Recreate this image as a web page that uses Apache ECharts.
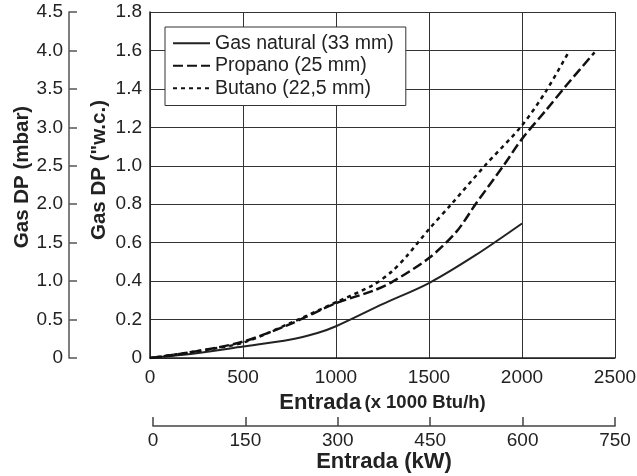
<!DOCTYPE html>
<html>
<head>
<meta charset="utf-8">
<script src="https://cdn.jsdelivr.net/npm/echarts@6/dist/echarts.min.js"></script>
<style>html,body{margin:0;padding:0;background:#fff}#c{width:637px;height:476px}</style>
</head>
<body>
<div id="c"></div>
<script>
// Data (x in 1000 Btu/h, y in "w.c.)
const seriesNames = ['Gas natural (33 mm)', 'Propano (25 mm)', 'Butano (22,5 mm)'];
const gasX = [0, 250, 500, 750, 900, 1000, 1250, 1500, 1750, 2000];
const gasY = [0, 0.025, 0.06, 0.095, 0.13, 0.165, 0.28, 0.39, 0.535, 0.70];
const propX = [0, 250, 500, 750, 1000, 1200, 1300, 1500, 1650, 1750, 1900, 2000, 2130, 2240, 2390];
const propY = [0, 0.035, 0.085, 0.175, 0.285, 0.35, 0.395, 0.52, 0.66, 0.80, 1.0, 1.14, 1.29, 1.42, 1.59];
const butX = [0, 250, 500, 750, 1000, 1200, 1300, 1380, 1500, 1620, 1800, 2000, 2130, 2250];
const butY = [0, 0.035, 0.08, 0.18, 0.29, 0.38, 0.45, 0.53, 0.67, 0.80, 1.0, 1.21, 1.39, 1.59];
// Axis ticks
const btuTicks = [0, 500, 1000, 1500, 2000, 2500];
const kwTicks = [0, 150, 300, 450, 600, 750];
const wcTicks = [0, 0.2, 0.4, 0.6, 0.8, 1.0, 1.2, 1.4, 1.6, 1.8];
const mbarTicks = [0, 0.5, 1.0, 1.5, 2.0, 2.5, 3.0, 3.5, 4.0, 4.5];

const zip = (xs, ys) => xs.map((x, i) => [x, ys[i]]);
const fmt1 = v => (v === 0 ? '0' : v.toFixed(1));
const fmt0 = v => String(v);
const FONT = '"Liberation Sans", Arial, sans-serif';
const TXT = '#222';

const chart = echarts.init(document.getElementById('c'), null, {renderer: 'canvas'});
chart.setOption({
  animation: false,
  backgroundColor: '#fff',
  textStyle: {fontFamily: FONT},
  grid: [
    {left: 150, right: 22, top: 12, bottom: 118, outerBoundsMode: 'none', containLabel: false},
    {left: 153, right: 22, top: 300, bottom: 50, outerBoundsMode: 'none', containLabel: false}
  ],
  legend: {
    left: 165, top: 27, orient: 'vertical',
    padding: [5, 12, 6, 7], itemGap: 0,
    itemWidth: 37, itemHeight: 14,
    backgroundColor: '#fff', borderColor: '#333', borderWidth: 1,
    itemStyle: {opacity: 0},
    textStyle: {fontSize: 19.5, color: TXT, fontFamily: FONT, lineHeight: 22.5},
    data: seriesNames
  },
  xAxis: [
    {
      gridIndex: 0, type: 'value',
      min: btuTicks[0], max: btuTicks[btuTicks.length - 1], interval: btuTicks[1] - btuTicks[0],
      axisLine: {show: true, lineStyle: {color: '#222', width: 1.5}},
      axisTick: {show: false},
      splitLine: {show: true, lineStyle: {color: '#333', width: 1}},
      axisLabel: {fontSize: 19, color: TXT, margin: 10, fontFamily: FONT, formatter: fmt0},
      name: '{a|Entrada} {b|(x 1000 Btu/h)}',
      nameLocation: 'middle', nameGap: 24,
      nameTextStyle: {
        rich: {
          a: {fontSize: 22, fontWeight: 'bold', color: TXT, fontFamily: FONT},
          b: {fontSize: 18.5, fontWeight: 'bold', color: TXT, fontFamily: FONT}
        }
      }
    },
    {
      gridIndex: 1, type: 'value',
      min: kwTicks[0], max: kwTicks[kwTicks.length - 1], interval: kwTicks[1] - kwTicks[0],
      axisLine: {show: true, lineStyle: {color: '#444', width: 1.5}},
      axisTick: {show: true, inside: true, length: 9, lineStyle: {color: '#444', width: 1.5}},
      splitLine: {show: false},
      axisLabel: {fontSize: 19, color: TXT, margin: 5, fontFamily: FONT, formatter: fmt0},
      name: 'Entrada (kW)',
      nameLocation: 'middle', nameGap: 22,
      nameTextStyle: {fontSize: 22, fontWeight: 'bold', color: TXT, fontFamily: FONT}
    }
  ],
  yAxis: [
    {
      gridIndex: 0, type: 'value', position: 'left',
      min: wcTicks[0], max: wcTicks[wcTicks.length - 1], interval: 0.2,
      axisLine: {show: true, lineStyle: {color: '#222', width: 1.5}},
      axisTick: {show: false},
      splitLine: {show: true, lineStyle: {color: '#333', width: 1}},
      axisLabel: {fontSize: 19, color: TXT, margin: 8, fontFamily: FONT, formatter: fmt1}
    },
    {
      gridIndex: 0, type: 'value', position: 'left', offset: 81,
      min: mbarTicks[0], max: mbarTicks[mbarTicks.length - 1], interval: 0.5,
      axisLine: {show: true, lineStyle: {color: '#555', width: 1.5}},
      axisTick: {show: true, inside: true, length: 8, lineStyle: {color: '#555', width: 1.5}},
      splitLine: {show: false},
      axisLabel: {fontSize: 19, color: TXT, margin: 6, fontFamily: FONT, formatter: fmt1}
    },
    {gridIndex: 1, type: 'value', show: false, min: 0, max: 1}
  ],
  graphic: [
    {
      type: 'text', x: 22, y: 177, rotation: Math.PI / 2,
      style: {text: 'Gas DP (mbar)', font: 'bold 20.5px ' + FONT, fill: TXT, align: 'center', verticalAlign: 'middle'}
    },
    {
      type: 'text', x: 99, y: 170, rotation: Math.PI / 2,
      style: {text: 'Gas DP ("w.c.)', font: 'bold 20.5px ' + FONT, fill: TXT, align: 'center', verticalAlign: 'middle'}
    }
  ],
  series: [
    {
      name: seriesNames[0], type: 'line', xAxisIndex: 0, yAxisIndex: 0,
      data: zip(gasX, gasY), smooth: 0.3, symbol: 'none',
      lineStyle: {color: '#222', width: 2, type: 'solid'}, itemStyle: {color: '#222'}
    },
    {
      name: seriesNames[1], type: 'line', xAxisIndex: 0, yAxisIndex: 0,
      data: zip(propX, propY), smooth: 0.3, symbol: 'none',
      lineStyle: {color: '#111', width: 2.5, type: [10, 4]}, itemStyle: {color: '#111'}
    },
    {
      name: seriesNames[2], type: 'line', xAxisIndex: 0, yAxisIndex: 0,
      data: zip(butX, butY), smooth: 0.3, symbol: 'none',
      lineStyle: {color: '#111', width: 2.5, type: [4, 4]}, itemStyle: {color: '#111'}
    }
  ]
});
</script>
</body>
</html>
